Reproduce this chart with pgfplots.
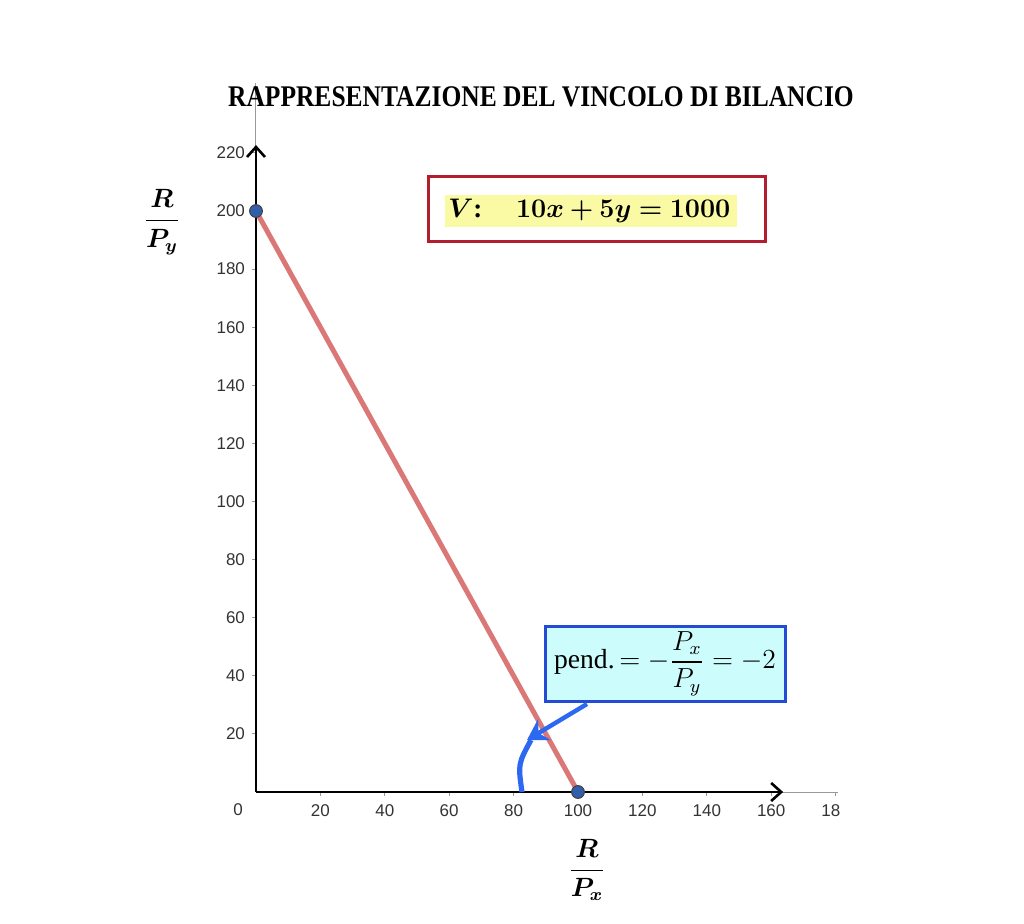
\documentclass[border=0pt]{standalone}
\usepackage{amsmath}
\usepackage{bm}
\usepackage{graphicx}
\usepackage{fontspec}
\setmainfont{Liberation Serif}
\setsansfont{Liberation Sans}
\usepackage{pgfplots}
\pgfplotsset{compat=1.18}
\usetikzlibrary{arrows.meta}

\definecolor{linered}{RGB}{218,120,120}
\definecolor{ptblue}{RGB}{50,95,170}
\definecolor{boxred}{RGB}{178,30,45}
\definecolor{boxblue}{RGB}{35,75,215}
\definecolor{boxcyan}{RGB}{205,252,252}
\definecolor{hlyellow}{RGB}{250,250,165}
\definecolor{arrblue}{RGB}{45,105,240}

\begin{document}
\begin{tikzpicture}
% page = 1024x923 px at 0.5pt per px, origin of the axis at px (256,792)
\path[use as bounding box] (-128pt,-65.5pt) rectangle (384pt,396pt);

\begin{axis}[
    at={(0,0)}, anchor=south west,
    x=1.61pt, y=1.4525pt,
    xmin=0, xmax=180.7, ymin=0, ymax=244,
    axis lines=left,
    axis line style={-, black!40, line width=0.5pt},
    clip=false,
    xtick={20,40,...,180},
    xticklabels={20,40,60,80,100,120,140,160,18\phantom{0}},
    ytick={20,40,...,220},
    tick align=outside,
    major tick length=2pt,
    tick style={black!40, line width=0.5pt},
    tick label style={font=\sffamily\fontsize{8.5}{9}\selectfont, text=black!80},
    xticklabel style={yshift=-1pt},
    /pgf/number format/assume math mode=true,
]
% budget line
\addplot[linered, line width=2.5pt] coordinates {(0,200) (100,0)};
% black arrow axes
\addplot[black, line width=1.3pt, -{Straight Barb[length=5pt,width=9pt]}] coordinates {(0,0) (163.7,0)};
\addplot[black, line width=1.3pt, -{Straight Barb[length=5pt,width=9pt]}] coordinates {(0,0) (0,222.7)};
% intercepts
\addplot[only marks, mark=*, mark size=3.2pt,
    mark options={fill=ptblue, draw=black!75, line width=0.5pt}] coordinates {(0,200) (100,0)};
\end{axis}

\node[font=\sffamily\fontsize{8.5}{9}\selectfont, text=black!80] at (-9pt,-9pt) {0};

% title
\node[font=\bfseries\fontsize{15}{18}\selectfont] at (142.5pt,347.5pt)
    {\scalebox{0.85}[1]{RAPPRESENTAZIONE DEL VINCOLO DI BILANCIO}};

% axis labels
\node at (-47pt,285pt) {\scalebox{1.1}{\large$\bm{\dfrac{R}{P_y}}$}};
\node at (165.5pt,-39pt) {\scalebox{1.1}{\large$\bm{\dfrac{R}{P_x}}$}};

% equation box
\node[draw=boxred, line width=1.5pt, fill=white, minimum width=168.5pt,
    minimum height=32.5pt, inner sep=0] at (170.25pt,291.75pt) {};
\node[fill=hlyellow, minimum width=146pt, minimum height=16pt, inner sep=0]
    at (167.5pt,290.5pt) {};
\node[anchor=west, inner sep=0] at (96pt,290.5pt)
    {\scalebox{1.12}{\large$\bm{V}$\textbf{:}\hspace{15pt}$\bm{10x+5y=1000}$}};

% slope box
\node[draw=boxblue, line width=1.5pt, fill=boxcyan, minimum width=120pt,
    minimum height=37.5pt, inner sep=0] at (204.5pt,64.25pt)
    {\scalebox{1.15}{\large pend.$\,=-\dfrac{P_x}{P_y}=-2$}};

% blue arrow and angle arc
\draw[arrblue, line width=2.6pt]
    (133pt,0pt) .. controls (131pt,14pt) .. (137.5pt,26pt);
\draw[arrblue, line width=2.2pt, -{Stealth[length=10pt,width=12pt]}]
    (165.5pt,44pt) -- (135.5pt,26pt);
\end{tikzpicture}
\end{document}
